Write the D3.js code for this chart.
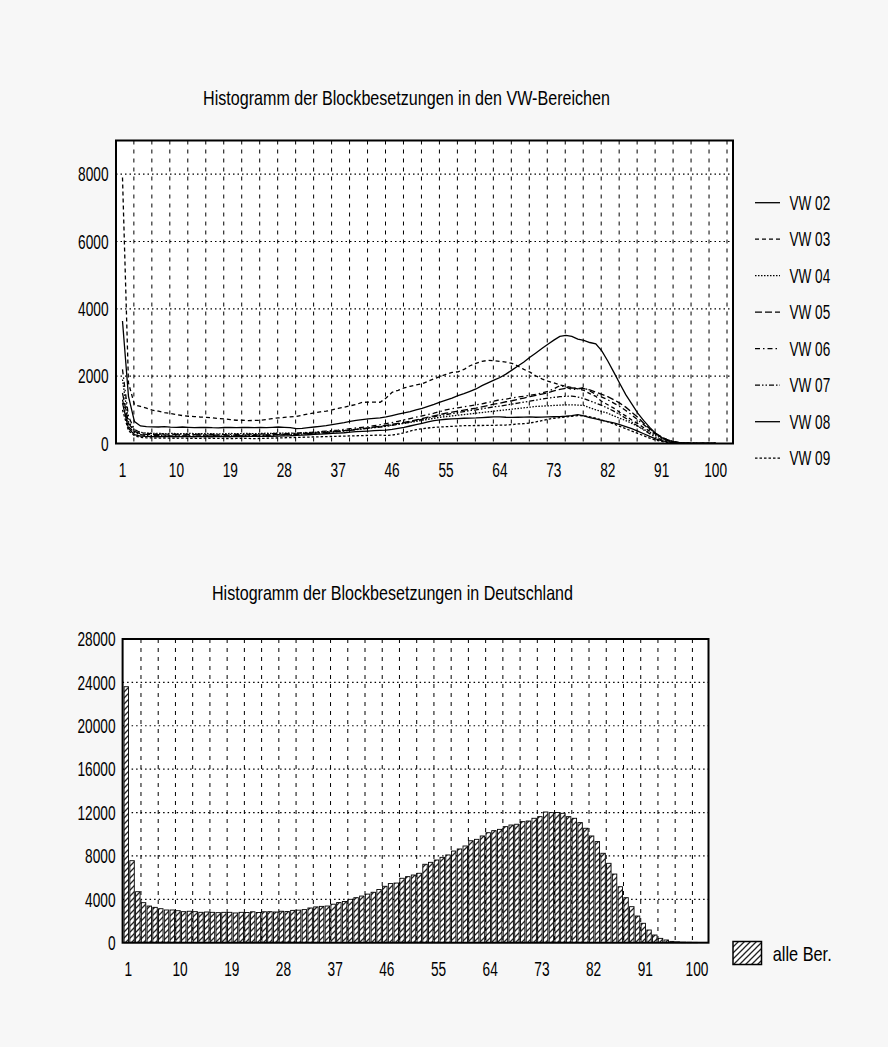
<!DOCTYPE html>
<html><head><meta charset="utf-8">
<script src="https://cdn.jsdelivr.net/npm/d3@7/dist/d3.min.js"></script>
<style>body{margin:0;background:#f7f7f7}svg{display:block}</style>
</head><body>
<svg id="c" width="888" height="1047"></svg>
<script>
// ---------- data ----------
const categories = [1,2,3,4,5,6,7,8,9,10,11,12,13,14,15,16,17,18,19,20,21,22,23,24,25,26,27,28,29,30,31,32,33,34,35,36,37,38,39,40,41,42,43,44,45,46,47,48,49,50,51,52,53,54,55,56,57,58,59,60,61,62,63,64,65,66,67,68,69,70,71,72,73,74,75,76,77,78,79,80,81,82,83,84,85,86,87,88,89,90,91,92,93,94,95,96,97,98,99,100];
const xTickLabels = [1,10,19,28,37,46,55,64,73,82,91,100];
const yTicksTop = [0,2000,4000,6000,8000];
const yTicksBottom = [0,4000,8000,12000,16000,20000,24000,28000];
const seriesNames = ["VW 02","VW 03","VW 04","VW 05","VW 06","VW 07","VW 08","VW 09"];
const titleTop = "Histogramm der Blockbesetzungen in den VW-Bereichen";
const titleBottom = "Histogramm der Blockbesetzungen in Deutschland";
const legendBottom = "alle Ber.";

const vw02 = [3640,1400,650,520,500,495,490,500,485,480, 490,480,470,475,480,470,465,475,480,470,
 475,480,470,475,470,480,490,480,470,440, 450,470,490,510,530,560,590,620,660,690,
 710,730,745,760,790,830,870,910,950,1000, 1040,1100,1160,1230,1290,1350,1420,1480,1550,1620,
 1720,1800,1880,1960,2060,2180,2300,2420,2560,2690, 2820,2950,3070,3180,3210,3180,3100,3060,3000,2960,
 2750,2450,2120,1780,1450,1180,900,680,480,300, 170,90,45,20,10,5,2,1,0,0];
const vw03 = [7900,1800,1150,1100,1050,990,960,920,890,860, 830,810,800,785,775,760,740,730,710,690,
 690,680,685,690,710,740,760,775,790,800, 840,880,910,940,960,1000,1040,1080,1120,1160,
 1220,1230,1230,1225,1350,1520,1580,1650,1700,1740, 1770,1850,1920,1990,2050,2110,2130,2200,2310,2380,
 2440,2470,2460,2440,2420,2380,2300,2200,2120,2010, 1920,1850,1800,1740,1700,1660,1620,1580,1480,1400,
 1250,1150,1050,930,820,700,590,470,370,280, 180,100,50,25,10,5,2,1,0,0];
const vw04 = [1900,650,400,330,310,300,300,290,300,295, 290,300,295,290,300,290,285,290,300,290,
 295,300,290,300,305,300,310,305,310,300, 310,320,330,340,350,360,370,385,400,420,
 440,460,480,500,520,550,580,600,630,660, 690,720,750,780,800,820,840,860,880,900,
 920,940,960,980,1000,1020,1040,1060,1080,1100, 1110,1120,1130,1140,1150,1150,1140,1130,1060,1000,
 950,900,820,750,680,600,510,420,330,240, 150,90,45,20,10,5,2,1,0,0];
const vw05 = [1500,600,360,290,270,260,260,255,250,260, 255,250,260,255,250,245,250,255,250,245,
 250,255,260,250,255,260,265,270,275,280, 290,300,310,320,330,345,360,380,400,420,
 440,460,490,510,540,570,600,630,660,700, 740,780,820,860,900,930,960,990,1020,1050,
 1090,1130,1170,1200,1240,1270,1310,1350,1390,1430, 1470,1510,1560,1610,1640,1650,1640,1630,1590,1530,
 1460,1390,1300,1200,1080,930,780,600,440,300, 190,110,55,25,10,5,2,1,0,0];
const vw06 = [2200,800,420,320,300,290,280,285,280,275, 280,270,275,280,270,275,270,265,270,275,
 270,280,275,280,285,290,300,295,300,310, 320,330,340,355,370,385,400,420,440,460,
 480,500,530,560,590,620,660,700,740,780, 820,860,900,950,1000,1030,1060,1090,1120,1150,
 1180,1220,1260,1300,1320,1350,1380,1400,1430,1460, 1500,1550,1620,1720,1680,1600,1620,1660,1560,1460,
 1380,1300,1200,1100,980,850,700,560,420,290, 180,110,55,25,10,5,2,1,0,0];
const vw07 = [1300,500,320,260,240,230,235,230,225,230, 225,230,220,225,230,225,220,225,230,225,
 230,235,230,240,245,250,255,260,265,270, 280,290,300,310,320,335,350,370,390,410,
 430,450,470,490,510,540,570,600,640,680, 720,760,800,830,860,890,920,950,980,1000,
 1030,1060,1090,1110,1140,1170,1200,1230,1260,1290, 1320,1350,1370,1390,1400,1410,1380,1330,1270,1200,
 1130,1050,960,860,750,640,520,400,290,190, 110,60,30,15,8,4,2,1,0,0];
const vw08 = [1200,450,260,220,210,205,200,210,205,200, 210,205,200,210,205,200,210,205,200,210,
 205,210,215,210,220,215,220,225,230,240, 250,260,270,280,290,300,310,320,335,350,
 360,370,380,390,400,420,450,480,520,560, 600,640,680,700,720,730,740,750,755,760,
 770,780,790,790,780,775,780,785,790,780, 785,790,795,800,810,830,860,820,770,730,
 690,650,610,560,500,440,370,290,210,140, 85,45,20,10,5,2,1,0,0,0];
const vw09 = [1000,380,230,180,170,165,160,165,160,155, 160,155,150,155,160,150,155,150,145,150,
 155,150,145,150,155,160,165,170,175,180, 185,190,195,200,205,210,215,220,225,230,
 235,240,245,250,240,250,280,320,370,410, 440,460,480,490,500,510,520,530,530,535,
 535,540,540,545,550,560,580,590,610,640, 680,720,750,770,790,810,830,820,790,750,
 700,640,580,510,440,370,300,230,160,100, 60,30,15,8,4,2,1,0,0,0];
const alleBer = [23600,7560,4700,3690,3380,3260,3135,3015,3015,2950, 2860,2900,2860,2800,2830,2800,2770,2800,2800,2740,
 2800,2780,2850,2780,2850,2860,2830,2900,2870,2980, 3000,3050,3200,3300,3350,3380,3550,3700,3800,4000,
 4150,4300,4480,4650,4900,5200,5450,5500,5940,6090, 6240,6400,7230,7410,7625,7870,8090,8450,8640,8915,
 9400,9530,9840,10140,10330,10450,10700,10850,10920,11160, 11220,11470,11620,12050,11990,12000,11930,11620,11470,11070,
 10550,9840,9320,8245,7320,6330,5160,4150,3320,2460, 1790,1170,710,400,250,120,80,50,40,30];

const seriesValues = [vw02,vw03,vw04,vw05,vw06,vw07,vw08,vw09];
const dashes = [null,"4,3","1.5,1.5","7,3","5,3,1.5,3","5,2,1.5,2,1.5,2",null,"2.5,2"];

// ---------- drawing ----------
const svg = d3.select("#c");
const FONT = "'Liberation Sans', Arial, sans-serif";
function txt(g, x, y, s, size, len, anchor) {
  return g.append("text").attr("x", x).attr("y", y).attr("dy", "0.36em")
    .attr("font-family", FONT).attr("font-size", size)
    .attr("text-anchor", anchor || "middle")
    .attr("textLength", len).attr("lengthAdjust", "spacingAndGlyphs")
    .attr("fill", "#000").text(s);
}
const digitW = 7.6;

// defs
const defs = svg.append("defs");
const pat = defs.append("pattern").attr("id", "hatch").attr("patternUnits", "userSpaceOnUse")
  .attr("width", 6).attr("height", 6);
pat.append("rect").attr("width", 6).attr("height", 6).attr("fill", "#fff");
pat.append("path").attr("d", "M-1,7 L7,-1 M-2,2 L2,-2 M4,8 L8,4").attr("stroke", "#222").attr("stroke-width", 1.3);

// ===== TOP CHART =====
const T = {l: 116, r: 733, t: 140.5, b: 443.5};
const xT = d3.scaleLinear().domain([0, 102.9]).range([116.5, 733]);
const yT = d3.scaleLinear().domain([0, 9000]).range([T.b, T.t]);
const gT = svg.append("g");
gT.append("rect").attr("x", T.l).attr("y", T.t).attr("width", T.r - T.l).attr("height", T.b - T.t).attr("fill", "#fff");
gT.append("clipPath").attr("id", "clipT").append("rect")
  .attr("x", T.l).attr("y", T.t).attr("width", T.r - T.l).attr("height", T.b - T.t);
// grid
const vGridT = d3.range(1, 35).map(k => k * 3);
gT.selectAll("line.vg").data(vGridT).join("line")
  .attr("x1", d => xT(d - 0.1)).attr("x2", d => xT(d - 0.1)).attr("y1", T.t).attr("y2", T.b)
  .attr("stroke", "#000").attr("stroke-width", 1).attr("stroke-dasharray", "4,5");
gT.selectAll("line.hg").data(yTicksTop.slice(1)).join("line")
  .attr("x1", T.l).attr("x2", T.r).attr("y1", d => yT(d)).attr("y2", d => yT(d))
  .attr("stroke", "#000").attr("stroke-width", 1.2).attr("stroke-dasharray", "1.5,3");
// lines
const line = d3.line().x((d, i) => xT(categories[i])).y(d => yT(d));
const gl = gT.append("g").attr("clip-path", "url(#clipT)");
seriesValues.forEach((vals, si) => {
  gl.append("path").datum(vals).attr("d", line).attr("fill", "none")
    .attr("stroke", "#000").attr("stroke-width", 1.3)
    .attr("stroke-dasharray", dashes[si]);
});
gT.append("rect").attr("x", T.l).attr("y", T.t).attr("width", T.r - T.l).attr("height", T.b - T.t)
  .attr("fill", "none").attr("stroke", "#000").attr("stroke-width", 2);
// ticks
yTicksTop.forEach(v => txt(gT, 108.5, yT(v), String(v), 20, digitW * String(v).length, "end"));
xTickLabels.forEach(v => txt(gT, xT(v), 469.5, String(v), 20, digitW * String(v).length, "middle"));
// title
txt(gT, 406.5, 97, titleTop, 21, 407, "middle");
// legend
seriesNames.forEach((n, i) => {
  const yy = 202.7 + i * 36.5;
  gT.append("line").attr("x1", 755).attr("x2", 780).attr("y1", yy).attr("y2", yy)
    .attr("stroke", "#000").attr("stroke-width", 1.3).attr("stroke-dasharray", dashes[i]);
  txt(gT, 789.5, yy, n, 20, 40.7, "start");
});

// ===== BOTTOM CHART =====
const B = {l: 122.6, r: 708.5, t: 639, b: 942.7};
const xB = d3.scaleLinear().domain([0, 102]).range([B.l, B.r]);
const yB = d3.scaleLinear().domain([0, 28000]).range([B.b, B.t]);
const gB = svg.append("g");
gB.append("rect").attr("x", B.l).attr("y", B.t).attr("width", B.r - B.l).attr("height", B.b - B.t).attr("fill", "#fff");
const vGridB = d3.range(1, 34).map(k => k * 3);
gB.selectAll("line.vg").data(vGridB).join("line")
  .attr("x1", d => xB(d + 0.2)).attr("x2", d => xB(d + 0.2)).attr("y1", B.t).attr("y2", B.b)
  .attr("stroke", "#000").attr("stroke-width", 1).attr("stroke-dasharray", "4,5");
gB.selectAll("line.hg").data(yTicksBottom.slice(1, -1)).join("line")
  .attr("x1", B.l).attr("x2", B.r).attr("y1", d => yB(d)).attr("y2", d => yB(d))
  .attr("stroke", "#000").attr("stroke-width", 1.2).attr("stroke-dasharray", "1.5,3");
gB.selectAll("rect.bar").data(alleBer).join("rect")
  .attr("x", (d, i) => xB(categories[i] - 1) + 1.5)
  .attr("width", xB(1) - xB(0) - 1.3)
  .attr("y", d => yB(d)).attr("height", d => yB(0) - yB(d))
  .attr("fill", "url(#hatch)").attr("stroke", "#000").attr("stroke-width", 0.9);
gB.append("rect").attr("x", B.l).attr("y", B.t).attr("width", B.r - B.l).attr("height", B.b - B.t)
  .attr("fill", "none").attr("stroke", "#000").attr("stroke-width", 2);
yTicksBottom.forEach(v => txt(gB, 115.5, yB(v), String(v), 20, digitW * String(v).length, "end"));
xTickLabels.forEach(v => txt(gB, xB(v), 969, String(v), 20, digitW * String(v).length, "middle"));
txt(gB, 392.5, 592, titleBottom, 21, 361, "middle");
gB.append("rect").attr("x", 733).attr("y", 941.5).attr("width", 28.5).attr("height", 23)
  .attr("fill", "url(#hatch)").attr("stroke", "#000").attr("stroke-width", 1.5);
txt(gB, 772.7, 953, legendBottom, 21, 59, "start");
</script>
</body></html>
